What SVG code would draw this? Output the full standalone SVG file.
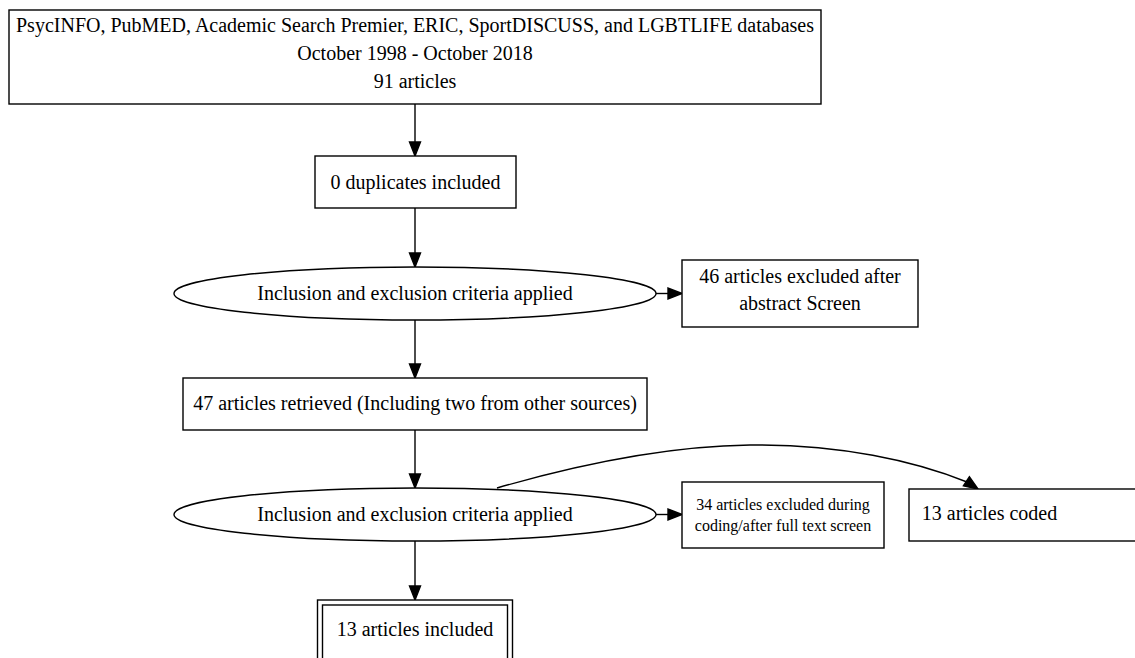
<svg xmlns="http://www.w3.org/2000/svg" width="1135" height="658" viewBox="0 0 1135 658">
<style>
.s{fill:#fff;stroke:#000;stroke-width:1.4}
.t{font-family:"Liberation Serif","Times New Roman",serif;font-size:20px;fill:#000;text-anchor:middle}
.sm{font-size:16px}
.e{fill:none;stroke:#000;stroke-width:1.4}
.h{fill:#000;stroke:#000;stroke-width:1.4}
</style>
<rect width="1135" height="658" fill="#fff"/>
<g id="connectors">
<path class="e" d="M415,104V143"/><polygon class="h" points="415,156 409.5,142 420.5,142"/>
<path class="e" d="M415,208V254"/><polygon class="h" points="415,267 409.5,253 420.5,253"/>
<path class="e" d="M656,293.5H669"/><polygon class="h" points="682,293.5 668,288 668,299"/>
<path class="e" d="M415,320V365"/><polygon class="h" points="415,378 409.5,364 420.5,364"/>
<path class="e" d="M415,430V475"/><polygon class="h" points="415,488 409.5,474 420.5,474"/>
<path class="e" d="M656,514.5H669"/><polygon class="h" points="682,514.5 668,509 668,520"/>
<path class="e" d="M497,488C580,464 670,446 750,445C840,444 915,461 967,482"/><polygon class="h" points="978,489 963.4,485.9 969.4,476.7"/>
<path class="e" d="M415,541V587"/><polygon class="h" points="415,600 409.5,586 420.5,586"/>
</g>
<g id="n-databases">
<rect class="s" x="9" y="10" width="812" height="94"/>
<text class="t" x="415" y="32">PsycINFO, PubMED, Academic Search Premier, ERIC, SportDISCUSS, and LGBTLIFE databases</text>
<text class="t" x="415" y="60">October 1998 - October 2018</text>
<text class="t" x="415" y="88">91 articles</text>
</g>
<g id="n-duplicates">
<rect class="s" x="315" y="156" width="201" height="52"/>
<text class="t" x="415.5" y="189">0 duplicates included</text>
</g>
<g id="n-criteria1">
<ellipse class="s" cx="415" cy="293.5" rx="241" ry="26.5"/>
<text class="t" x="415" y="300">Inclusion and exclusion criteria applied</text>
</g>
<g id="n-excluded46">
<rect class="s" x="682" y="260" width="236" height="67"/>
<text class="t" x="800" y="283">46 articles excluded after</text>
<text class="t" x="800" y="310">abstract Screen</text>
</g>
<g id="n-retrieved">
<rect class="s" x="183" y="378" width="464" height="52"/>
<text class="t" x="415" y="410">47 articles retrieved (Including two from other sources)</text>
</g>
<g id="n-criteria2">
<ellipse class="s" cx="415" cy="514.5" rx="241" ry="26.5"/>
<text class="t" x="415" y="521">Inclusion and exclusion criteria applied</text>
</g>
<g id="n-excluded34">
<rect class="s" x="682" y="482" width="202" height="66"/>
<text class="t sm" x="783" y="510">34 articles excluded during</text>
<text class="t sm" x="783" y="531">coding/after full text screen</text>
</g>
<g id="n-coded">
<rect class="s" x="909" y="489" width="240" height="52"/>
<text class="t" x="989.5" y="520">13 articles coded</text>
</g>
<g id="n-included">
<rect class="s" x="317.5" y="600" width="195" height="70"/>
<rect class="s" x="322.5" y="605" width="185" height="60"/>
<text class="t" x="415" y="636">13 articles included</text>
</g>
</svg>
